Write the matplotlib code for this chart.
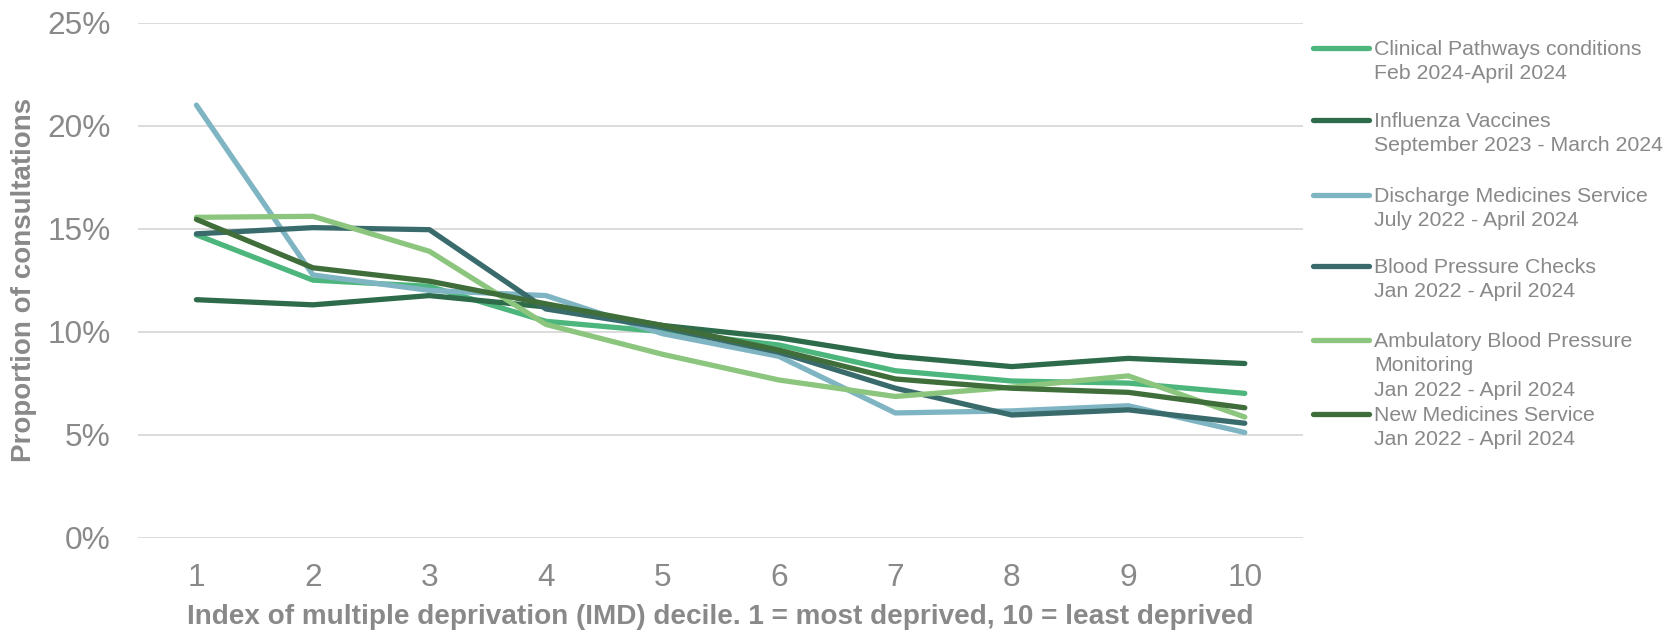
import numpy as np
import matplotlib
matplotlib.use("Agg")
import matplotlib.pyplot as plt
from matplotlib.lines import Line2D
from matplotlib.ticker import PercentFormatter

plt.rcParams['font.family'] = ['Liberation Sans', 'DejaVu Sans']

# Deciles IMD (1 = más desfavorecido)
deciles = np.arange(1, 11)

# Proporción de consultas por decil (%)
clinical_pathways = [14.7, 12.5, 12.2, 10.5, 10.0, 9.35, 8.1, 7.6, 7.5, 7.0]
influenza = [11.55, 11.3, 11.75, 11.2, 10.3, 9.7, 8.8, 8.3, 8.7, 8.45]
discharge = [21.0, 12.75, 12.0, 11.75, 9.9, 8.8, 6.05, 6.15, 6.4, 5.1]
bp_checks = [14.75, 15.05, 14.95, 11.1, 10.2, 9.0, 7.25, 5.95, 6.2, 5.55]
ambulatory = [15.55, 15.6, 13.9, 10.35, 8.9, 7.65, 6.85, 7.3, 7.85, 5.85]
new_medicines = [15.45, 13.1, 12.45, 11.35, 10.3, 9.1, 7.7, 7.25, 7.05, 6.3]

series = [
    ("Clinical Pathways conditions\nFeb 2024-April 2024", clinical_pathways, "#4cb67c"),
    ("Influenza Vaccines\nSeptember 2023 - March 2024", influenza, "#2e6b4a"),
    ("Discharge Medicines Service\nJuly 2022 - April 2024", discharge, "#7fb5c3"),
    ("Blood Pressure Checks\nJan 2022 - April 2024", bp_checks, "#3a6b6c"),
    ("Ambulatory Blood Pressure\nMonitoring\nJan 2022 - April 2024", ambulatory, "#8cc57d"),
    ("New Medicines Service\nJan 2022 - April 2024", new_medicines, "#3f6e3b"),
]

gris = "#898989"

fig = plt.figure(figsize=(16.65, 6.32), dpi=100)
ax = fig.add_axes([0.083, 0.1495, 0.6996, 0.8145])

for nombre, valores, color in series:
    ax.plot(deciles, valores, color=color, lw=3.8, solid_capstyle='round',
            solid_joinstyle='miter')

ax.set_xlim(0.5, 10.5)
ax.set_ylim(0, 25)
ax.set_xticks(deciles)
ax.set_yticks(np.arange(0, 26, 5))
ax.yaxis.set_major_formatter(PercentFormatter(decimals=0))
ax.grid(axis='y', color='#d9d9d9', lw=1.3)
ax.set_axisbelow(True)
for s in ax.spines.values():
    s.set_visible(False)
ax.tick_params(axis='both', length=0, labelsize=22.8, labelcolor=gris)
ax.tick_params(axis='y', pad=20)
ax.tick_params(axis='x', pad=18)

ax.set_ylabel("Proportion of consultations", fontsize=20, fontweight='bold',
              color=gris)
ax.yaxis.set_label_coords(-0.0865, 0.5)
fig.text(0.4325, 1 - 617 / 632,
         "Index of multiple deprivation (IMD) decile. 1 = most deprived, 10 = least deprived",
         ha='center', va='center', fontsize=20.1, fontweight='bold', color=gris)

# Leyenda dibujada a mano
W, H = 1665, 632
y_entradas = [47.8, 120, 195, 265.5, 340, 414]
for (nombre, valores, color), yc in zip(series, y_entradas):
    fig.add_artist(Line2D([1313 / W, 1369 / W], [1 - yc / H, 1 - yc / H],
                          color=color, lw=3.8, solid_capstyle='round',
                          transform=fig.transFigure))
    fig.text(1374 / W, 1 - (yc - 8) / H, nombre, ha='left', va='top',
             fontsize=15.3, color=gris, linespacing=1.35)

fig.savefig("out.png", dpi=100)
